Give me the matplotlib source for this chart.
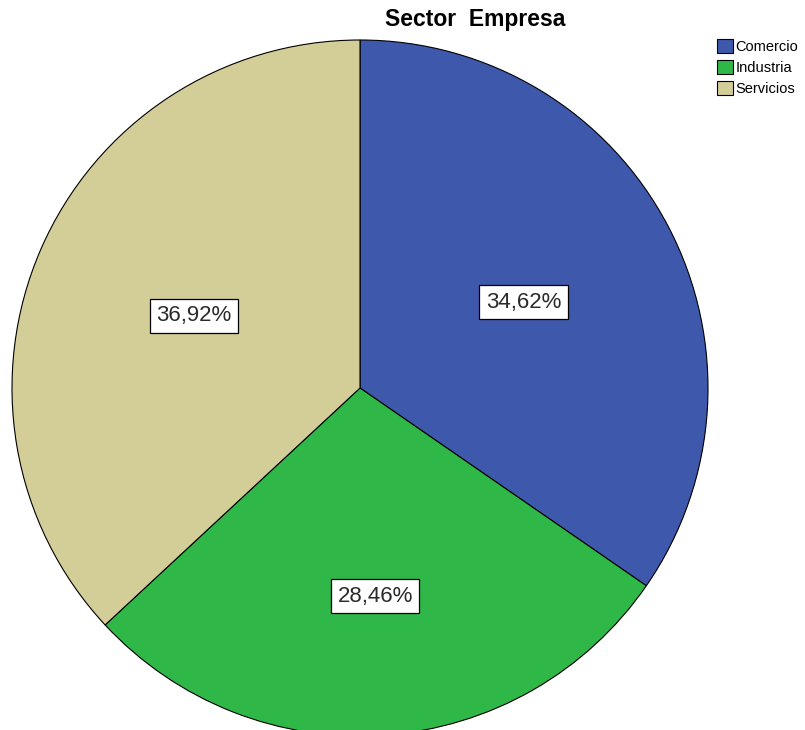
import numpy as np
import matplotlib.pyplot as plt
from matplotlib.patches import Patch

sectores = ['Comercio', 'Industria', 'Servicios']
porcentajes = [34.62, 28.46, 36.92]
colores = ['#3e58ac', '#2fb847', '#d3ce97']

plt.rcParams['font.family'] = ['Liberation Sans', 'DejaVu Sans']

fig = plt.figure(figsize=(8.05, 7.3), dpi=100)
ax = fig.add_axes([0, 0, 1, 1])

centro = (360, 342)
radio = 348
wedges, _ = ax.pie(porcentajes, colors=colores, startangle=90, counterclock=False,
                   center=centro, radius=radio, frame=True,
                   wedgeprops=dict(edgecolor='black', linewidth=0.8))
ax.set_xlim(0, 805)
ax.set_ylim(0, 730)
ax.set_aspect('equal')
ax.axis('off')

# etiquetas de porcentaje dentro de cada sector
dist_etiqueta = [0.53, 0.60, 0.52]
for w, p, d in zip(wedges, porcentajes, dist_etiqueta):
    ang = np.deg2rad((w.theta1 + w.theta2) / 2)
    x = centro[0] + d * radio * np.cos(ang)
    y = centro[1] + d * radio * np.sin(ang)
    ax.text(x, y, f'{p:.2f}%'.replace('.', ','), ha='center', va='center',
            fontsize=16, color='#2a2a2a',
            bbox=dict(boxstyle='square,pad=0.3', facecolor='white',
                      edgecolor='black', linewidth=0.9))

fig.text(0.59, 0.973, 'Sector  Empresa', ha='center', va='center',
         fontsize=16.5, fontweight='bold')

handles = [Patch(facecolor=c, edgecolor='black', linewidth=0.8) for c in colores]
fig.legend(handles, sectores, loc='upper right', bbox_to_anchor=(0.997, 0.952),
           frameon=False, fontsize=10.5, handlelength=1.1, handleheight=1.1,
           handletextpad=0.2, labelspacing=0.4, borderaxespad=0.1,
           borderpad=0.2)

fig.savefig('out.png', dpi=100)
